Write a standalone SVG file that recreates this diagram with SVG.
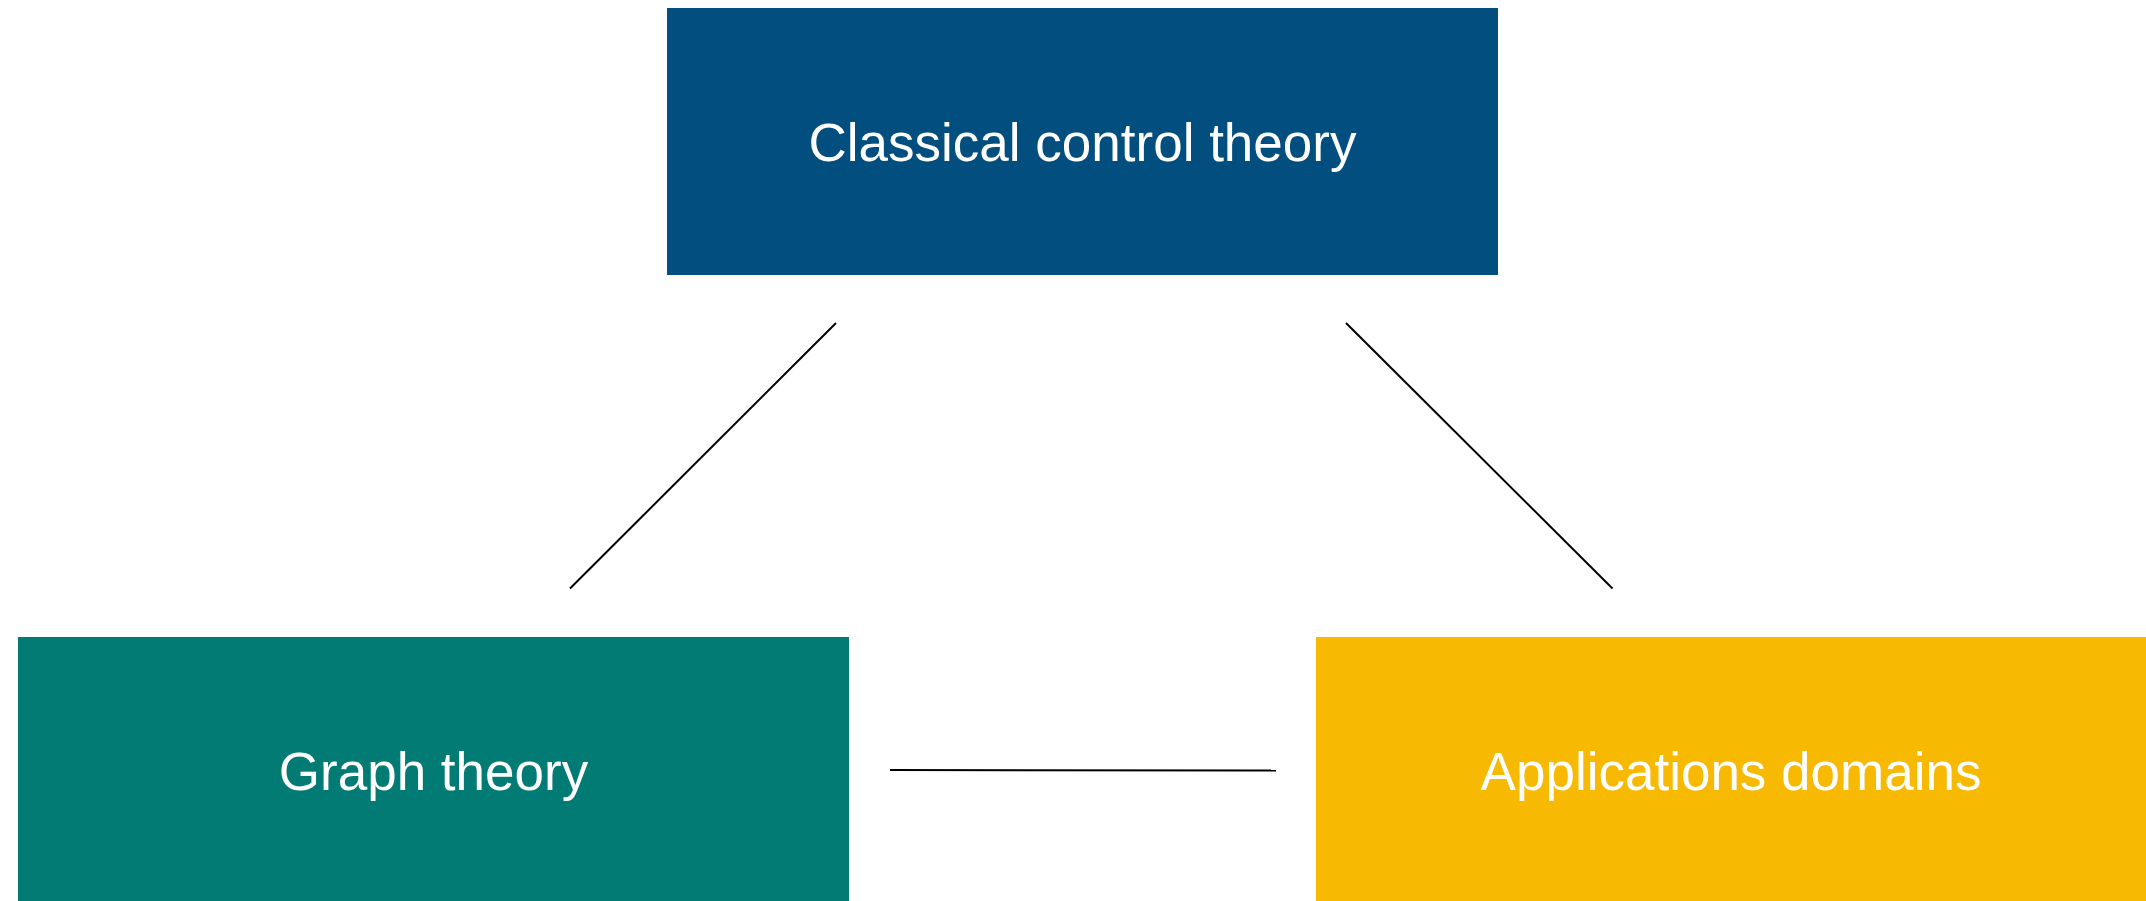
<svg xmlns="http://www.w3.org/2000/svg" width="2146" height="901" viewBox="0 0 2146 901">
<style>
.lbl{font-family:"Liberation Sans",Arial,sans-serif;font-size:53px;fill:#ffffff;text-anchor:middle}
.conn{stroke:#000000;stroke-width:2;fill:none}
</style>
<rect width="2146" height="901" fill="#ffffff"/>
<g id="connectors">
<line class="conn" x1="836" y1="323" x2="570" y2="588.5"/>
<line class="conn" x1="1346" y1="323" x2="1612.5" y2="588.5"/>
<line class="conn" x1="890" y1="770" x2="1276" y2="770.5"/>
</g>
<g id="node-classical">
<rect x="667" y="8" width="831" height="267" fill="#024f7f"/>
<text class="lbl" x="1082.5" y="161">Classical control theory</text>
</g>
<g id="node-graph">
<rect x="18" y="637" width="831" height="267" fill="#027b74"/>
<text class="lbl" x="433.5" y="790">Graph theory</text>
</g>
<g id="node-applications">
<rect x="1316" y="637" width="831" height="267" fill="#f7b901"/>
<text class="lbl" x="1731" y="790">Applications domains</text>
</g>
</svg>
